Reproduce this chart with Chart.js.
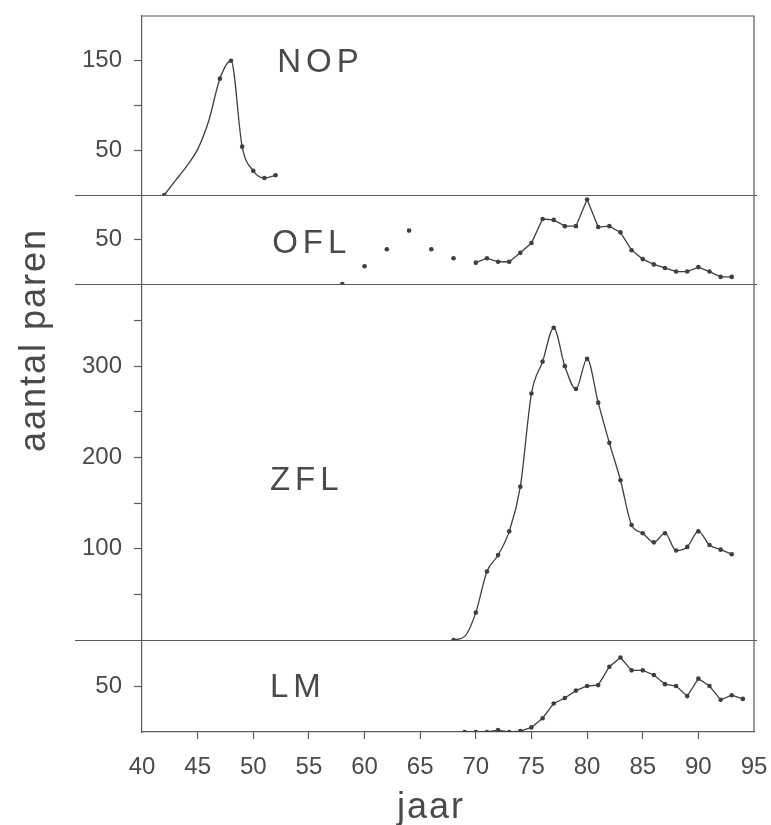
<!DOCTYPE html>
<html>
<head>
<meta charset="utf-8">
<title>aantal paren</title>
<script src="https://cdn.jsdelivr.net/npm/chart.js@4.4.1/dist/chart.umd.min.js"></script>
<style>
  html, body { margin: 0; padding: 0; background: #fff; }
  canvas { display: block; }
</style>
</head>
<body>
<canvas id="pairs" width="771" height="825"></canvas>
<script>
// broedparen per gebied en per jaar
const nopYears = [42, 43, 44, 45, 46, 47, 48, 49, 50, 51, 52];
const nopPairs = [0, 16, 32, 51, 83, 130, 150, 54, 27, 19, 22];
const nopCounted = [42, 47, 48, 49, 50, 51, 52]; // jaren met een punt

const oflLooseYears = [58, 60, 62, 64, 66, 68];
const oflLoosePairs = [0, 20, 39, 60, 39, 29];
const oflYears = [70, 71, 72, 73, 74, 75, 76, 77, 78, 79, 80, 81, 82, 83, 84, 85, 86, 87, 88, 89, 90, 91, 92, 93];
const oflPairs = [24, 29, 25, 25, 35, 46, 73, 72, 65, 65, 95, 64, 65, 58, 38, 28, 22, 18, 14, 14, 19, 14, 8, 8];

const zflYears = [68, 69, 70, 71, 72, 73, 74, 75, 76, 77, 78, 79, 80, 81, 82, 83, 84, 85, 86, 87, 88, 89, 90, 91, 92, 93];
const zflPairs = [0, 4, 30, 75, 93, 119, 168, 270, 305, 342, 300, 275, 308, 260, 216, 175, 126, 117, 107, 117, 98, 102, 119, 104, 99, 94];
const zflCounted = [68, 70, 71, 72, 73, 74, 75, 76, 77, 78, 79, 80, 81, 82, 83, 84, 85, 86, 87, 88, 89, 90, 91, 92, 93];

const lmYears = [69, 70, 71, 72, 73, 74, 75, 76, 77, 78, 79, 80, 81, 82, 83, 84, 85, 86, 87, 88, 89, 90, 91, 92, 93, 94];
const lmPairs = [0, 0, 0, 2, 0, 1, 5, 15, 31, 37, 45, 50, 51, 71, 81, 67, 67, 62, 52, 50, 39, 58, 50, 35, 40, 36];

// alleen deze waarden krijgen een getal bij de as
const nopTickLabels = [50, 150];
const oflTickLabels = [50];
const zflTickLabels = [100, 200, 300];
const lmTickLabels = [50];

const INK = "#3f3f3f";
const FRAME = "#5a5a5a";
const TEXT = "#4a4a4a";
const NONE = "rgba(0,0,0,0)";
const FONT = "'Liberation Sans', Arial, sans-serif";

function points(years, values) {
  return years.map((year, i) => ({x: year, y: values[i]}));
}

function lineSet(axis, years, values, counted, smooth) {
  return {
    data: points(years, values),
    yAxisID: axis,
    borderColor: INK,
    borderWidth: 1.3,
    backgroundColor: INK,
    pointBackgroundColor: INK,
    pointBorderWidth: 0,
    pointRadius: (ctx) => (!counted || counted.includes(ctx.raw.x)) ? 2.3 : 0,
    cubicInterpolationMode: smooth ? "monotone" : "default",
    tension: 0,
    fill: false,
  };
}

// elk gebied krijgt een eigen y-as; de assen staan boven elkaar
function panelAxis(max, height, order, labels) {
  const marks = [];
  for (let v = 50; v < max; v += 50) marks.push(v);
  return {
    type: "linear",
    position: "left",
    stack: "panels",
    stackWeight: height,
    weight: order,
    min: 0,
    max: max,
    border: {display: true, color: FRAME, width: 1.2},
    grid: {
      drawOnChartArea: false,
      drawTicks: true,
      tickLength: 8,
      tickWidth: 1.2,
      tickColor: FRAME,
    },
    ticks: {
      autoSkip: false,
      padding: 12,
      color: TEXT,
      font: {family: FONT, size: 24},
      callback: (value) => labels.includes(value) ? String(value) : "",
    },
    afterBuildTicks: (scale) => {
      scale.ticks = marks.map((v) => ({value: v}));
    },
    afterFit: (scale) => {
      scale.width = 142;
      scale.paddingTop = 0;
      scale.paddingBottom = 0;
    },
  };
}

// kaderlijnen, gebiedsnamen en astitels
const panelDecor = {
  id: "panelDecor",
  afterDraw(chart, args, opts) {
    const {ctx, chartArea: area, scales} = chart;
    ctx.save();
    ctx.strokeStyle = FRAME;
    ctx.lineWidth = 1.2;
    ctx.beginPath();
    ctx.moveTo(area.left, area.top);
    ctx.lineTo(area.right, area.top);
    ctx.lineTo(area.right, area.bottom);
    for (const id of opts.dividers) {
      const y = Math.round(scales[id].getPixelForValue(0)) + 0.5;
      ctx.moveTo(opts.ruleStart, y);
      ctx.lineTo(area.right + 3, y);
    }
    ctx.stroke();

    ctx.fillStyle = TEXT;
    ctx.font = "33px " + FONT;
    ctx.letterSpacing = "5px";
    ctx.textAlign = "left";
    ctx.textBaseline = "alphabetic";
    for (const p of opts.names) {
      ctx.fillText(p.text, scales.x.getPixelForValue(p.x), scales[p.axis].getPixelForValue(p.y));
    }

    ctx.font = "36px " + FONT;
    ctx.letterSpacing = "2px";
    ctx.textAlign = "center";
    ctx.fillText(opts.xTitle.text, opts.xTitle.x, opts.xTitle.y);

    ctx.translate(opts.yTitle.x, opts.yTitle.y);
    ctx.rotate(-Math.PI / 2);
    ctx.fillText(opts.yTitle.text, 0, 0);
    ctx.restore();
  },
};

new Chart(document.getElementById("pairs"), {
  type: "line",
  data: {
    datasets: [
      lineSet("yNop", nopYears, nopPairs, nopCounted, true),
      Object.assign(lineSet("yOfl", oflLooseYears, oflLoosePairs, null, false), {showLine: false}),
      lineSet("yOfl", oflYears, oflPairs, null, false),
      lineSet("yZfl", zflYears, zflPairs, zflCounted, true),
      lineSet("yLm", lmYears, lmPairs, null, false),
    ],
  },
  options: {
    responsive: false,
    animation: false,
    devicePixelRatio: 1,
    layout: {padding: {top: 16, right: 17, left: 0, bottom: 0}},
    plugins: {
      legend: {display: false},
      tooltip: {enabled: false},
      panelDecor: {
        dividers: ["yNop", "yOfl", "yZfl"],
        ruleStart: 75,
        names: [
          {text: "NOP", axis: "yNop", x: 52.15, y: 137},
          {text: "OFL", axis: "yOfl", x: 51.7, y: 35},
          {text: "ZFL", axis: "yZfl", x: 51.5, y: 164},
          {text: "LM", axis: "yLm", x: 51.5, y: 38},
        ],
        xTitle: {text: "jaar", x: 431, y: 818},
        yTitle: {text: "aantal paren", x: 45, y: 340},
      },
    },
    scales: {
      x: {
        type: "linear",
        position: "bottom",
        min: 40,
        max: 95,
        border: {color: FRAME, width: 1.2},
        grid: {
          drawOnChartArea: false,
          tickLength: 7,
          tickWidth: 1.2,
          tickColor: (ctx) => {
            const v = ctx.tick ? ctx.tick.value : 40;
            return v > 40 && v < 95 ? FRAME : NONE;
          },
        },
        ticks: {
          stepSize: 5,
          autoSkip: false,
          maxRotation: 0,
          padding: 14,
          color: TEXT,
          font: {family: FONT, size: 24},
        },
        afterFit: (scale) => {
          scale.height = 93;
          scale.paddingLeft = 0;
          scale.paddingRight = 0;
        },
      },
      yNop: panelAxis(200, 179, 4, nopTickLabels),
      yOfl: panelAxis(100, 89, 3, oflTickLabels),
      yZfl: panelAxis(390, 356, 2, zflTickLabels),
      yLm: panelAxis(100, 92, 1, lmTickLabels),
    },
  },
  plugins: [panelDecor],
});
</script>
</body>
</html>
